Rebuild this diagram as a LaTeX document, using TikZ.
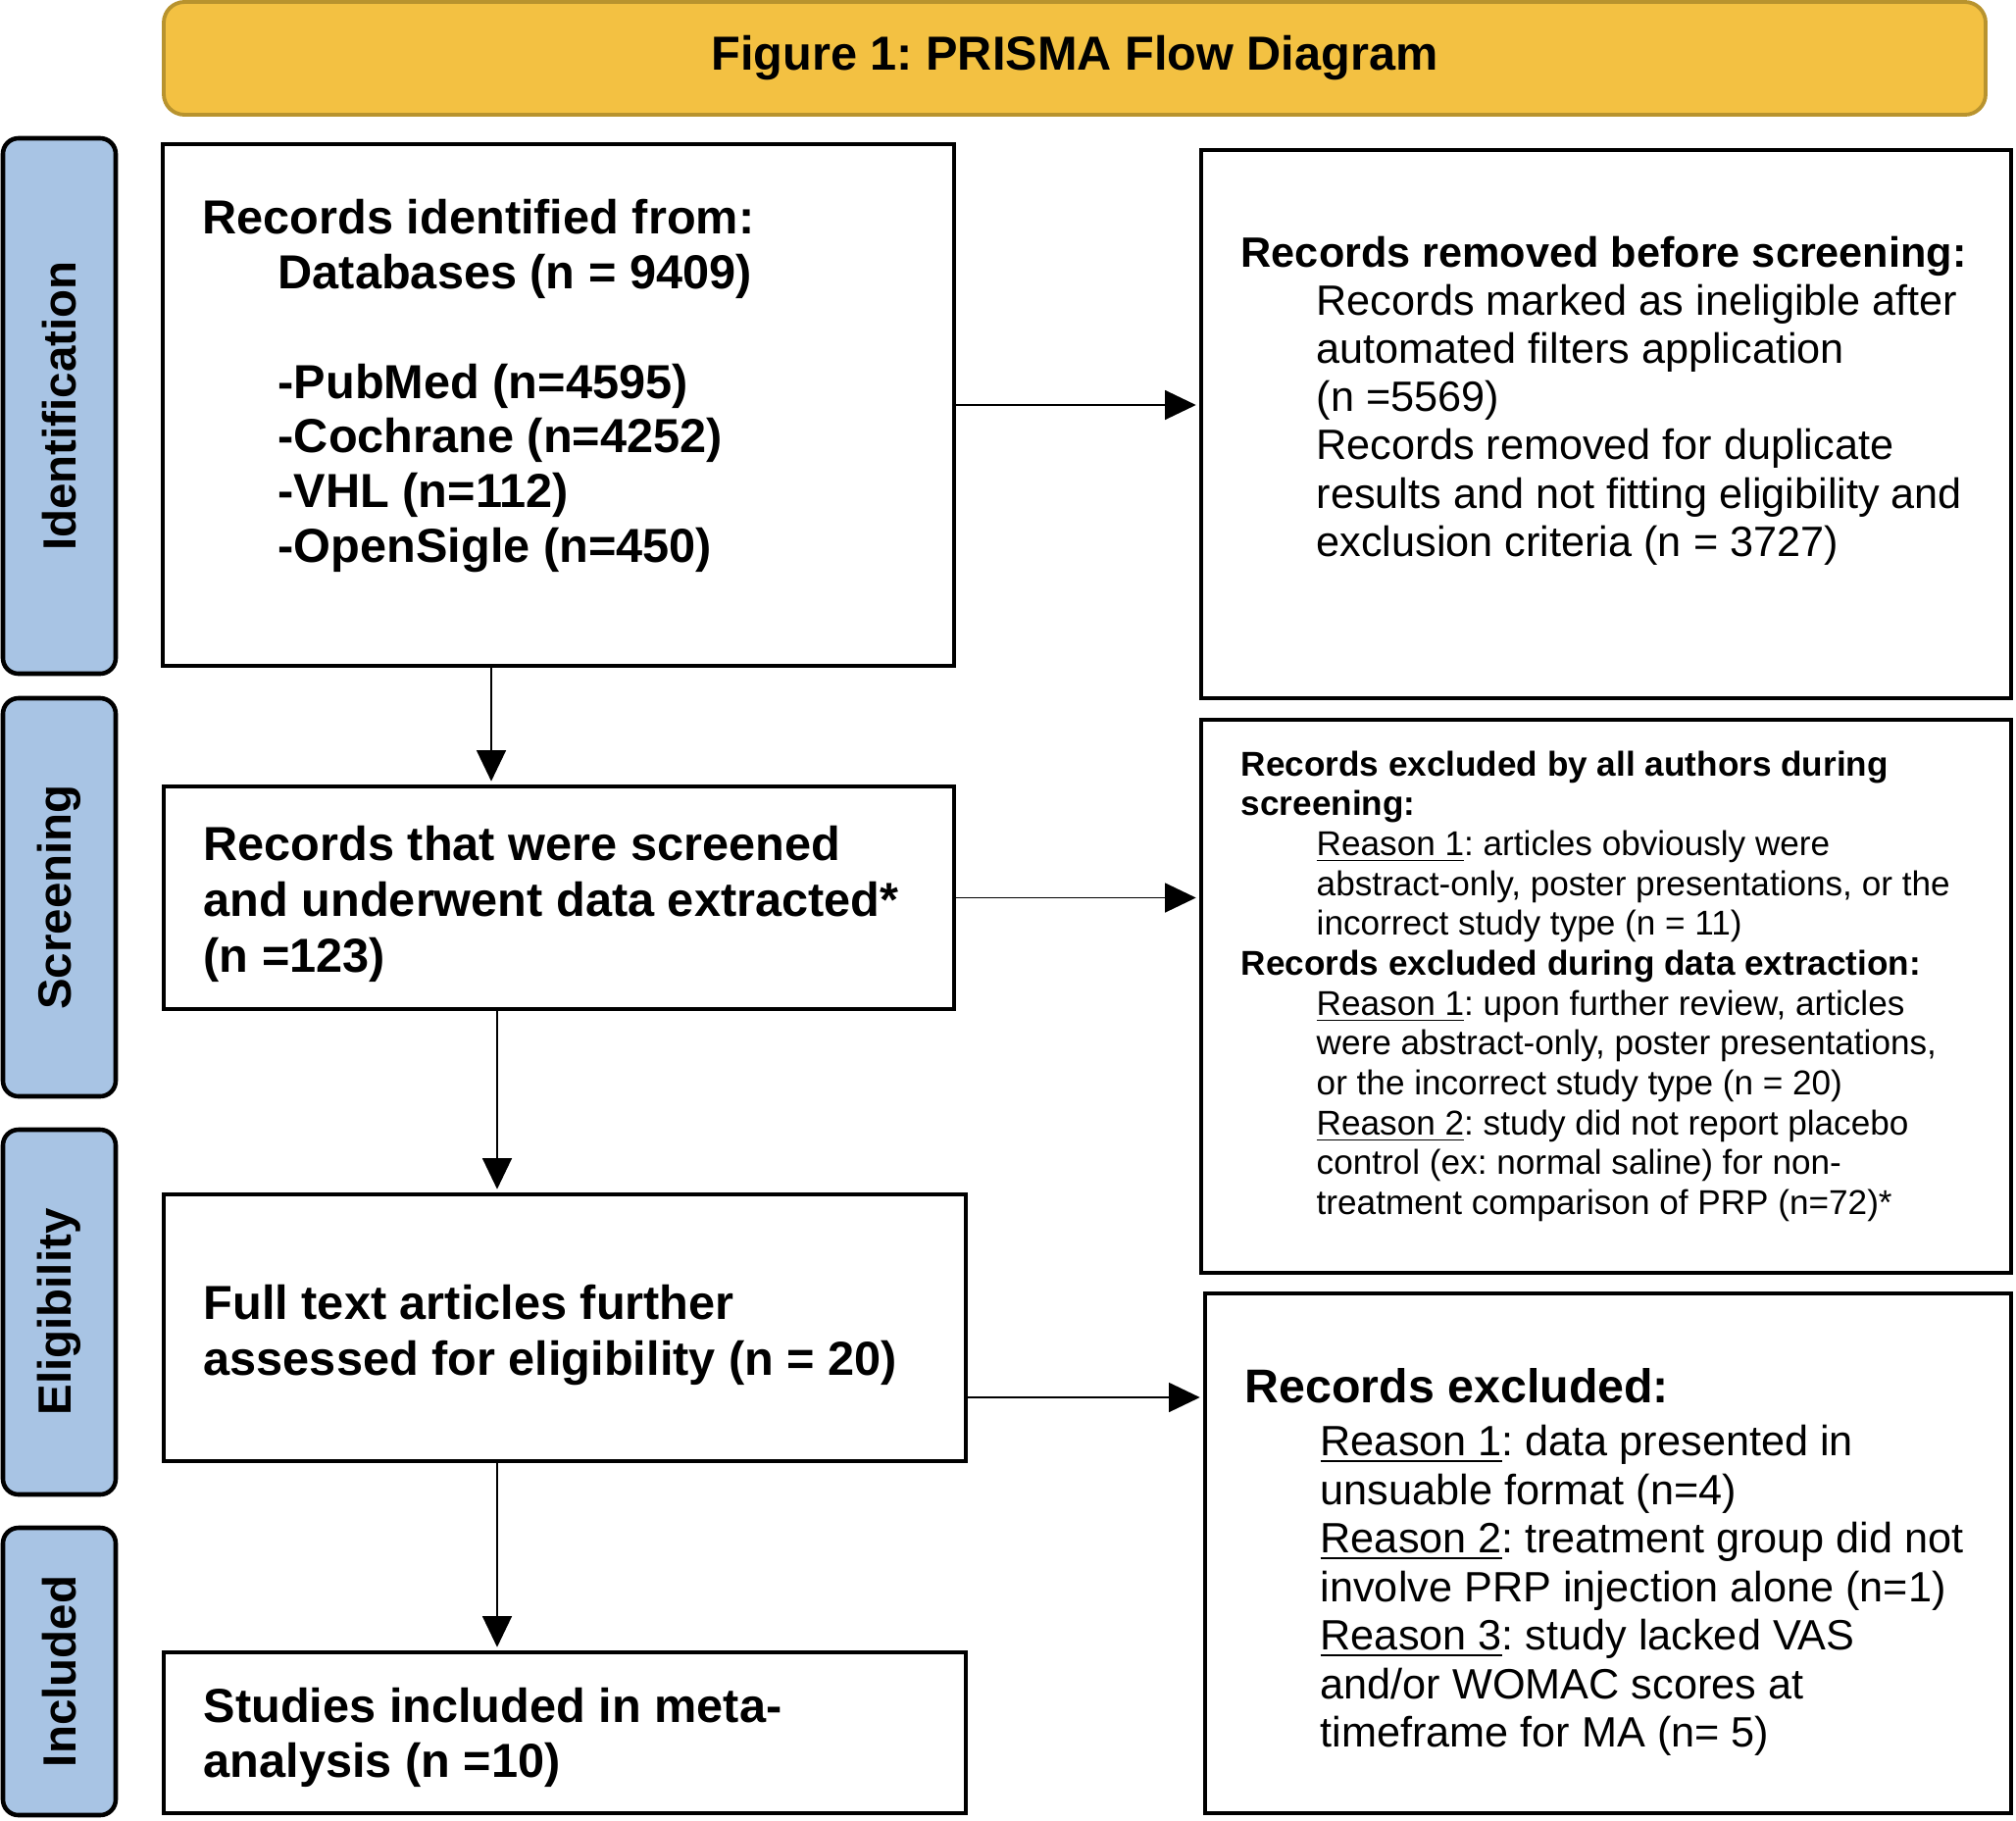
\documentclass[tikz,border=0pt]{standalone}
\usepackage{fontspec}
\setmainfont{Liberation Sans}
\usetikzlibrary{arrows.meta, positioning, calc}
\definecolor{titlefill}{HTML}{F3C142}
\definecolor{titleline}{HTML}{B8932E}
\definecolor{barfill}{HTML}{A8C4E4}
\newcommand{\ind}{\hspace*{0.77cm}}
\frenchspacing
\tikzset{
    titlebar/.style={draw=titleline, fill=titlefill, line width=1.1pt, rounded corners=6pt, outer sep=0pt},
    stagebar/.style={draw, fill=barfill, line width=1.3pt, rounded corners=4.5pt, outer sep=0pt,
        rotate=90, minimum height=1.15cm, font=\bfseries\fontsize{13.5}{16}\selectfont},
    flowbox/.style={draw, line width=1.4pt, outer sep=0pt},
    boxtext/.style={align=left, inner sep=0pt, anchor=north west},
    bigbold/.style={boxtext, font=\bfseries\fontsize{13.85}{15.85}\selectfont},
    flowarrow/.style={line width=0.55pt, -{Triangle[length=9pt, width=8.5pt]}, shorten >=1.5pt}
}

\begin{document}
\begin{tikzpicture}
    \useasboundingbox (0,0) rectangle (20.56,-18.56);

    % Title bar
    \node[titlebar, minimum width=18.58cm, minimum height=1.15cm, font=\bfseries\fontsize{13.85}{16}\selectfont] (title) at (10.96,-0.595) {Figure 1: PRISMA Flow Diagram};

    % Stage bars on the left
    \foreach \name/\yc/\h/\txt in {ident/-4.14/5.46/Identification, screen/-9.15/4.06/Screening, elig/-13.38/3.72/Eligibility, incl/-17.045/2.93/Included} {
        \node[stagebar, minimum width=\h cm] (\name) at (0.605,\yc) {\txt};
    }

    % Main column
    \node[flowbox, minimum width=8.07cm, minimum height=5.32cm] (records) at (5.695,-4.13) {};
    \node[flowbox, minimum width=8.06cm, minimum height=2.27cm] (screened) at (5.70,-9.155) {};
    \node[flowbox, minimum width=8.18cm, minimum height=2.72cm] (fulltext) at (5.76,-13.54) {};
    \node[flowbox, minimum width=8.18cm, minimum height=1.64cm] (included) at (5.76,-17.67) {};

    % Right column
    \node[flowbox, minimum width=8.26cm, minimum height=5.59cm] (removed) at (16.38,-4.325) {};
    \node[flowbox, minimum width=8.26cm, minimum height=5.64cm] (exclscreen) at (16.38,-10.16) {};
    \node[flowbox, minimum width=8.22cm, minimum height=5.30cm] (excluded) at (16.40,-15.84) {};

    % Texts of the main column
    \node[bigbold] (recordstxt) at ([shift={(0.40,-0.56)}]records.north west) {Records identified from:\\
        \ind Databases (n = 9409)\\[15.85pt]
        \ind -PubMed (n=4595)\\
        \ind -Cochrane (n=4252)\\
        \ind -VHL (n=112)\\
        \ind -OpenSigle (n=450)};
    \node[bigbold, font=\bfseries\fontsize{13.85}{16.2}\selectfont] (screenedtxt) at ([shift={(0.40,-0.40)}]screened.north west) {Records that were screened\\
        and underwent data extracted*\\
        (n =123)};
    \node[bigbold, font=\bfseries\fontsize{13.85}{16.3}\selectfont] (fulltexttxt) at ([shift={(0.40,-0.91)}]fulltext.north west) {Full text articles further\\
        assessed for eligibility (n = 20)};
    \node[bigbold, font=\bfseries\fontsize{13.85}{16}\selectfont] (includedtxt) at ([shift={(0.40,-0.35)}]included.north west) {Studies included in meta-\\
        analysis (n =10)};

    % Texts of the right column
    \node[boxtext, font=\fontsize{12.3}{14}\selectfont] (removedtxt) at ([shift={(0.40,-0.87)}]removed.north west) {{\bfseries Records removed before screening:}\\
        \ind Records marked as ineligible after\\
        \ind automated filters application\\
        \ind (n =5569)\\
        \ind Records removed for duplicate\\
        \ind results and not fitting eligibility and\\
        \ind exclusion criteria (n = 3727)};
    \node[boxtext, font=\fontsize{10}{11.57}\selectfont] (exclscreentxt) at ([shift={(0.40,-0.31)}]exclscreen.north west) {{\bfseries Records excluded by all authors during}\\
        {\bfseries screening:}\\
        \ind\underline{Reason 1}: articles obviously were\\
        \ind abstract-only, poster presentations, or the\\
        \ind incorrect study type (n = 11)\\
        {\bfseries Records excluded during data extraction:}\\
        \ind\underline{Reason 1}: upon further review, articles\\
        \ind were abstract-only, poster presentations,\\
        \ind or the incorrect study type (n = 20)\\
        \ind\underline{Reason 2}: study did not report placebo\\
        \ind control (ex: normal saline) for non-\\
        \ind treatment comparison of PRP (n=72)*};
    \node[boxtext, font=\fontsize{12.3}{14.1}\selectfont] (excludedtxt) at ([shift={(0.40,-0.76)}]excluded.north west) {{\bfseries\fontsize{13.75}{15.3}\selectfont Records excluded:}\\[1.2pt]
        \ind\underline{Reason 1}: data presented in\\
        \ind unsuable format (n=4)\\
        \ind\underline{Reason 2}: treatment group did not\\
        \ind involve PRP injection alone (n=1)\\
        \ind\underline{Reason 3}: study lacked VAS\\
        \ind and/or WOMAC scores at\\
        \ind timeframe for MA (n= 5)};

    % Arrows
    \coordinate (colA) at (5.01,0);
    \coordinate (colB) at (5.07,0);
    \draw[flowarrow] (records.south -| colA) -- (screened.north -| colA);
    \draw[flowarrow] (screened.south -| colB) -- (fulltext.north -| colB);
    \draw[flowarrow] (fulltext.south -| colB) -- (included.north -| colB);
    \draw[flowarrow] (records.east) -- (records.east -| removed.west);
    \draw[flowarrow] (screened.east) -- (screened.east -| exclscreen.west);
    \draw[flowarrow] ([yshift=-0.71cm]fulltext.east) -- ([yshift=-0.71cm]fulltext.east -| excluded.west);
\end{tikzpicture}
\end{document}
